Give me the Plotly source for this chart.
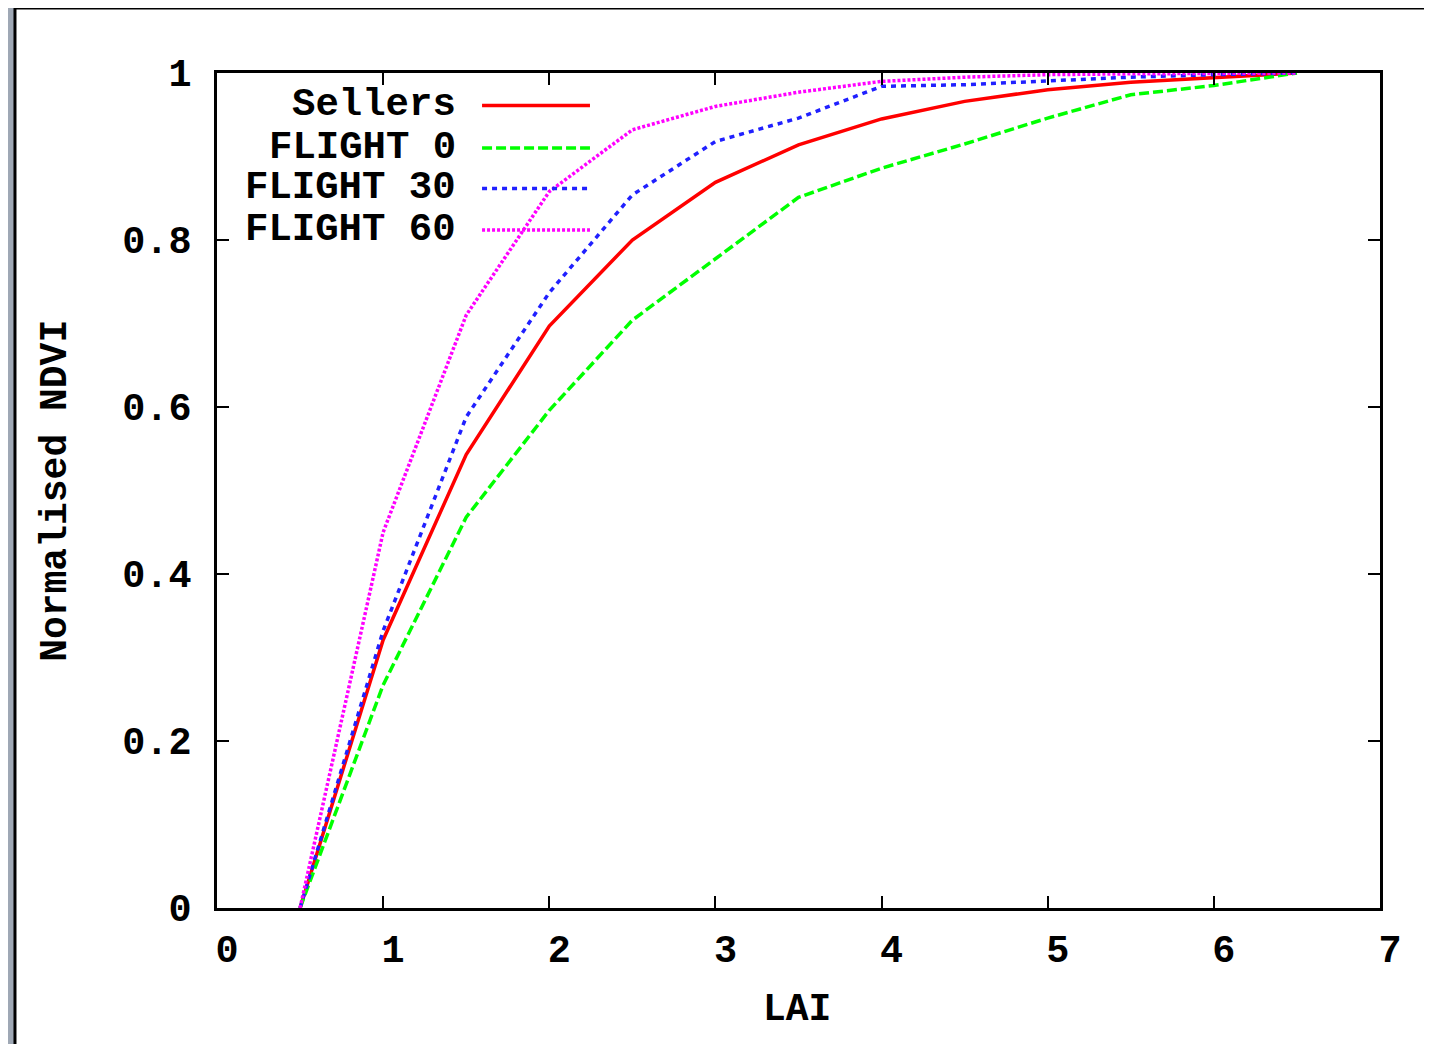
import plotly.graph_objects as go

# ---- data ----
lai = [0.5, 1.0, 1.5, 2.0, 2.5, 3.0, 3.5, 4.0, 4.5, 5.0, 5.5, 6.0, 6.5]
sellers = [0.0, 0.321, 0.543, 0.697, 0.800, 0.869, 0.914, 0.945, 0.966, 0.980, 0.989, 0.995, 1.0]
flight0 = [0.0, 0.267, 0.468, 0.596, 0.704, 0.778, 0.851, 0.886, 0.915, 0.946, 0.974, 0.985, 1.0]
flight30 = [0.0, 0.332, 0.588, 0.737, 0.854, 0.918, 0.946, 0.984, 0.986, 0.991, 0.995, 0.998, 1.0]
flight60 = [0.0, 0.450, 0.710, 0.858, 0.932, 0.960, 0.977, 0.990, 0.995, 0.998, 0.999, 0.999, 1.0]

series_names = ["Sellers", "FLIGHT 0", "FLIGHT 30", "FLIGHT 60"]
series_values = [sellers, flight0, flight30, flight60]
colors = ["#ff0000", "#00ff00", "#2020ff", "#ff00ff"]
dashes = ["solid", "10px,4px", "5px,5px", "3px,2px"]

x_ticks = [0, 1, 2, 3, 4, 5, 6, 7]
y_ticks = [0, 0.2, 0.4, 0.6, 0.8, 1]

FONT = "Liberation Mono"

fig = go.Figure()
for name, vals, c, d in zip(series_names, series_values, colors, dashes):
    fig.add_trace(go.Scatter(x=lai, y=vals, mode="lines", name=name,
                             line=dict(color=c, width=3.5, dash=d),
                             showlegend=False))

# Manual gnuplot-style legend (text right-aligned, sample to its right)
legend_rows_y = [0.9611, 0.9102, 0.8617, 0.8120]
shapes = [
    # outer white frame
    dict(type="rect", xref="paper", yref="paper", x0=-0.1737, x1=1.0413,
         y0=-0.175, y1=1.0778, fillcolor="white",
         line=dict(color="black", width=3), layer="below"),
]
annotations = []
for name, c, d, yy in zip(series_names, colors, dashes, legend_rows_y):
    annotations.append(dict(text=name, xref="paper", yref="paper", x=0.2075, y=yy,
                            xanchor="right", yanchor="middle", showarrow=False,
                            font=dict(family=FONT, size=39, color="black", weight="bold")))
    shapes.append(dict(type="line", xref="paper", yref="paper", x0=0.2279, x1=0.3207,
                       y0=yy, y1=yy, line=dict(color=c, width=3.5, dash=d)))

annotations.append(dict(text="LAI", xref="paper", yref="paper", x=0.4987, y=-0.122,
                        xanchor="center", yanchor="middle", showarrow=False,
                        font=dict(family=FONT, size=38, color="black", weight="bold")))
annotations.append(dict(text="Normalised NDVI", xref="paper", yref="paper", x=-0.139, y=0.5,
                        xanchor="center", yanchor="middle", showarrow=False, textangle=-90,
                        font=dict(family=FONT, size=38, color="black", weight="bold")))

# The page body has an 8px margin, so the figure is sized/margined to compensate
fig.update_layout(
    width=1424, height=1036,
    margin=dict(l=209, r=52, t=65, b=136),
    paper_bgcolor="#9fa8b5",
    plot_bgcolor="white",
    shapes=shapes,
    annotations=annotations,
    font=dict(family=FONT, size=38.5, color="black", weight="bold"),
)
fig.update_xaxes(range=[0, 7], tickvals=x_ticks, ticktext=[str(v) for v in x_ticks],
                 ticks="inside", ticklen=12, tickwidth=2, tickcolor="black",
                 showline=True, linecolor="black", linewidth=2.5, mirror="ticks",
                 showgrid=False, zeroline=False, ticklabelstandoff=5, ticklabelshift=10)
fig.update_yaxes(range=[0, 1], tickvals=y_ticks, ticktext=[("%g" % v) for v in y_ticks],
                 ticks="inside", ticklen=12, tickwidth=2, tickcolor="black",
                 showline=True, linecolor="black", linewidth=2.5, mirror="ticks",
                 showgrid=False, zeroline=False, ticklabelstandoff=15)

fig.write_html("out.html")
